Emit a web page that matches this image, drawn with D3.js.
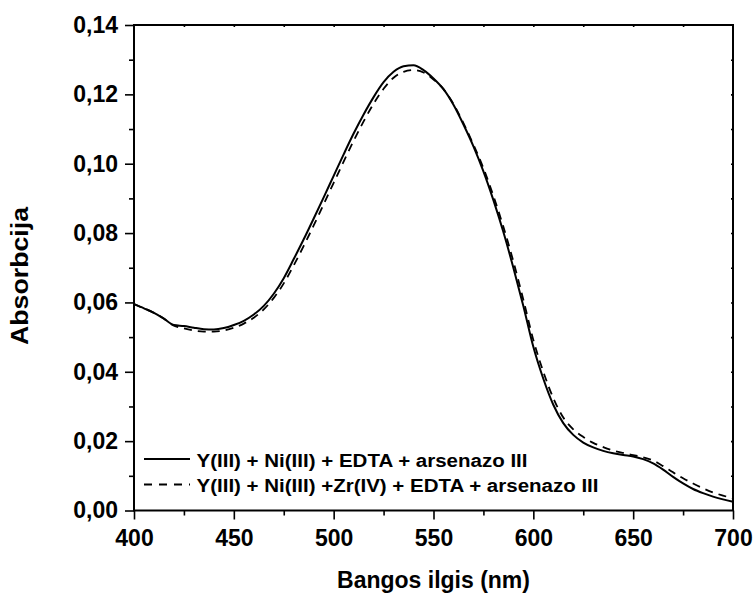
<!DOCTYPE html>
<html><head><meta charset="utf-8">
<script src="https://cdn.jsdelivr.net/npm/d3@7"></script>
<style>body{margin:0;background:#fff}svg{display:block}text{font-family:Arial,"Liberation Sans",sans-serif;font-weight:bold;fill:#000}</style>
</head><body>
<script>
const wavelengths = [400,405,410,415,420,425,430,435,440,445,450,455,460,465,470,475,480,485,490,495,500,505,510,515,520,525,530,535,540,545,550,555,560,565,570,575,580,585,590,595,600,605,610,615,620,625,630,635,640,645,650,655,660,665,670,675,680,685,690,695,700];
const seriesSolid = [0.0595,0.0583,0.0570,0.0553,0.0535,0.0532,0.0527,0.0523,0.0522,0.0526,0.0535,0.0547,0.0565,0.0590,0.0625,0.0670,0.0725,0.0782,0.0842,0.0903,0.0965,0.1027,0.1087,0.1142,0.1192,0.1235,0.1265,0.1281,0.1284,0.1270,0.1246,0.1215,0.1170,0.1113,0.1050,0.0978,0.0895,0.0803,0.0700,0.0590,0.0472,0.0380,0.0305,0.0252,0.0218,0.0196,0.0182,0.0172,0.0165,0.0160,0.0156,0.0148,0.0136,0.0118,0.0097,0.0078,0.0062,0.0050,0.0040,0.0032,0.0025];
const seriesDashed = [0.0595,0.0583,0.0570,0.0553,0.0533,0.0525,0.0519,0.0516,0.0516,0.0519,0.0527,0.0539,0.0556,0.0580,0.0613,0.0655,0.0707,0.0763,0.0822,0.0883,0.0945,0.1006,0.1066,0.1122,0.1173,0.1216,0.1248,0.1265,0.1270,0.1263,0.1243,0.1215,0.1172,0.1117,0.1055,0.0987,0.0907,0.0818,0.0718,0.0608,0.0492,0.0400,0.0324,0.0268,0.0234,0.0212,0.0195,0.0183,0.0173,0.0166,0.0160,0.0153,0.0144,0.0128,0.0110,0.0093,0.0078,0.0064,0.0052,0.0043,0.0035];
const legendLabels = ["Y(III) + Ni(III) + EDTA + arsenazo III","Y(III) + Ni(III) +Zr(IV) + EDTA + arsenazo III"];
const xTicks = [400,450,500,550,600,650,700];
const yTicks = [0,0.02,0.04,0.06,0.08,0.10,0.12,0.14];
const yTickLabels = ["0,00","0,02","0,04","0,06","0,08","0,10","0,12","0,14"];

const W=755,H=597, L=134, R=733, T=25, B=510.5;
const svg=d3.select("body").append("svg").attr("width",W).attr("height",H);
const x=d3.scaleLinear().domain([400,700]).range([L,R]);
const y=d3.scaleLinear().domain([0,0.14]).range([B,T]);

// curves
const line=d3.line().x((d,i)=>x(wavelengths[i])).y(d=>y(d)).curve(d3.curveMonotoneX);
const g=svg.append("g");
g.append("path").datum(seriesDashed).attr("d",line).attr("fill","none").attr("stroke","#000").attr("stroke-width",1.8).attr("stroke-dasharray","8,6");
g.append("path").datum(seriesSolid).attr("d",line).attr("fill","none").attr("stroke","#000").attr("stroke-width",2);

// axes
const fs=23;
const xAxis=d3.axisBottom(x).tickValues(xTicks).tickSize(9).tickPadding(10.5).tickFormat(d3.format("d"));
svg.append("g").attr("transform",`translate(0,${B})`).call(xAxis);
const xMinor=d3.axisBottom(x).tickValues(d3.range(425,700,50)).tickSize(5).tickFormat("");
svg.append("g").attr("transform",`translate(0,${B})`).call(xMinor);
const yAxis=d3.axisLeft(y).tickValues(yTicks).tickSize(9).tickPadding(7).tickFormat((d,i)=>yTickLabels[i]);
svg.append("g").attr("transform",`translate(${L},0)`).call(yAxis);
const yMinor=d3.axisLeft(y).tickValues(d3.range(0.01,0.14,0.02)).tickSize(5).tickFormat("");
svg.append("g").attr("transform",`translate(${L},0)`).call(yMinor);
// top & right inward small ticks
svg.append("g").attr("transform",`translate(0,${T})`).call(d3.axisBottom(x).tickValues(d3.range(425,700,25)).tickSize(2).tickFormat(""));
svg.append("g").attr("transform",`translate(${R},0)`).call(d3.axisRight(y).tickValues(d3.range(0.01,0.14,0.01)).tickSizeInner(-2).tickSizeOuter(0).tickFormat(""));

svg.selectAll(".domain").remove();
svg.selectAll(".tick line").attr("stroke","#000").attr("stroke-width",1.6);
svg.selectAll(".tick text").style("font-size",fs+"px").style("font-family","Arial, 'Liberation Sans', sans-serif").style("font-weight","bold").attr("fill","#000");
// frame
svg.append("rect").attr("x",L).attr("y",T).attr("width",R-L).attr("height",B-T).attr("fill","none").attr("stroke","#000").attr("stroke-width",2);

// titles
svg.append("text").attr("x",(L+R)/2).attr("y",588).attr("text-anchor","middle").style("font-size","23px").text("Bangos ilgis (nm)");
svg.append("text").attr("transform",`translate(28,276) rotate(-90)`).attr("text-anchor","middle").style("font-size","23px")
  .attr("textLength",138).attr("lengthAdjust","spacingAndGlyphs").text("Absorbcija");

// legend
const lg=svg.append("g");
const rowY=[459,484.5], rowW=[331,402];
[0,1].forEach(i=>{
  const yy=rowY[i];
  lg.append("line").attr("x1",144).attr("x2",190).attr("y1",yy).attr("y2",yy).attr("stroke","#000").attr("stroke-width",1.8).attr("stroke-dasharray",i?"8,7":null);
  lg.append("text").attr("x",196.5).attr("y",yy+7.5).style("font-size","18px")
    .attr("textLength",rowW[i]).attr("lengthAdjust","spacingAndGlyphs").text(legendLabels[i]);
});
</script>
</body></html>
